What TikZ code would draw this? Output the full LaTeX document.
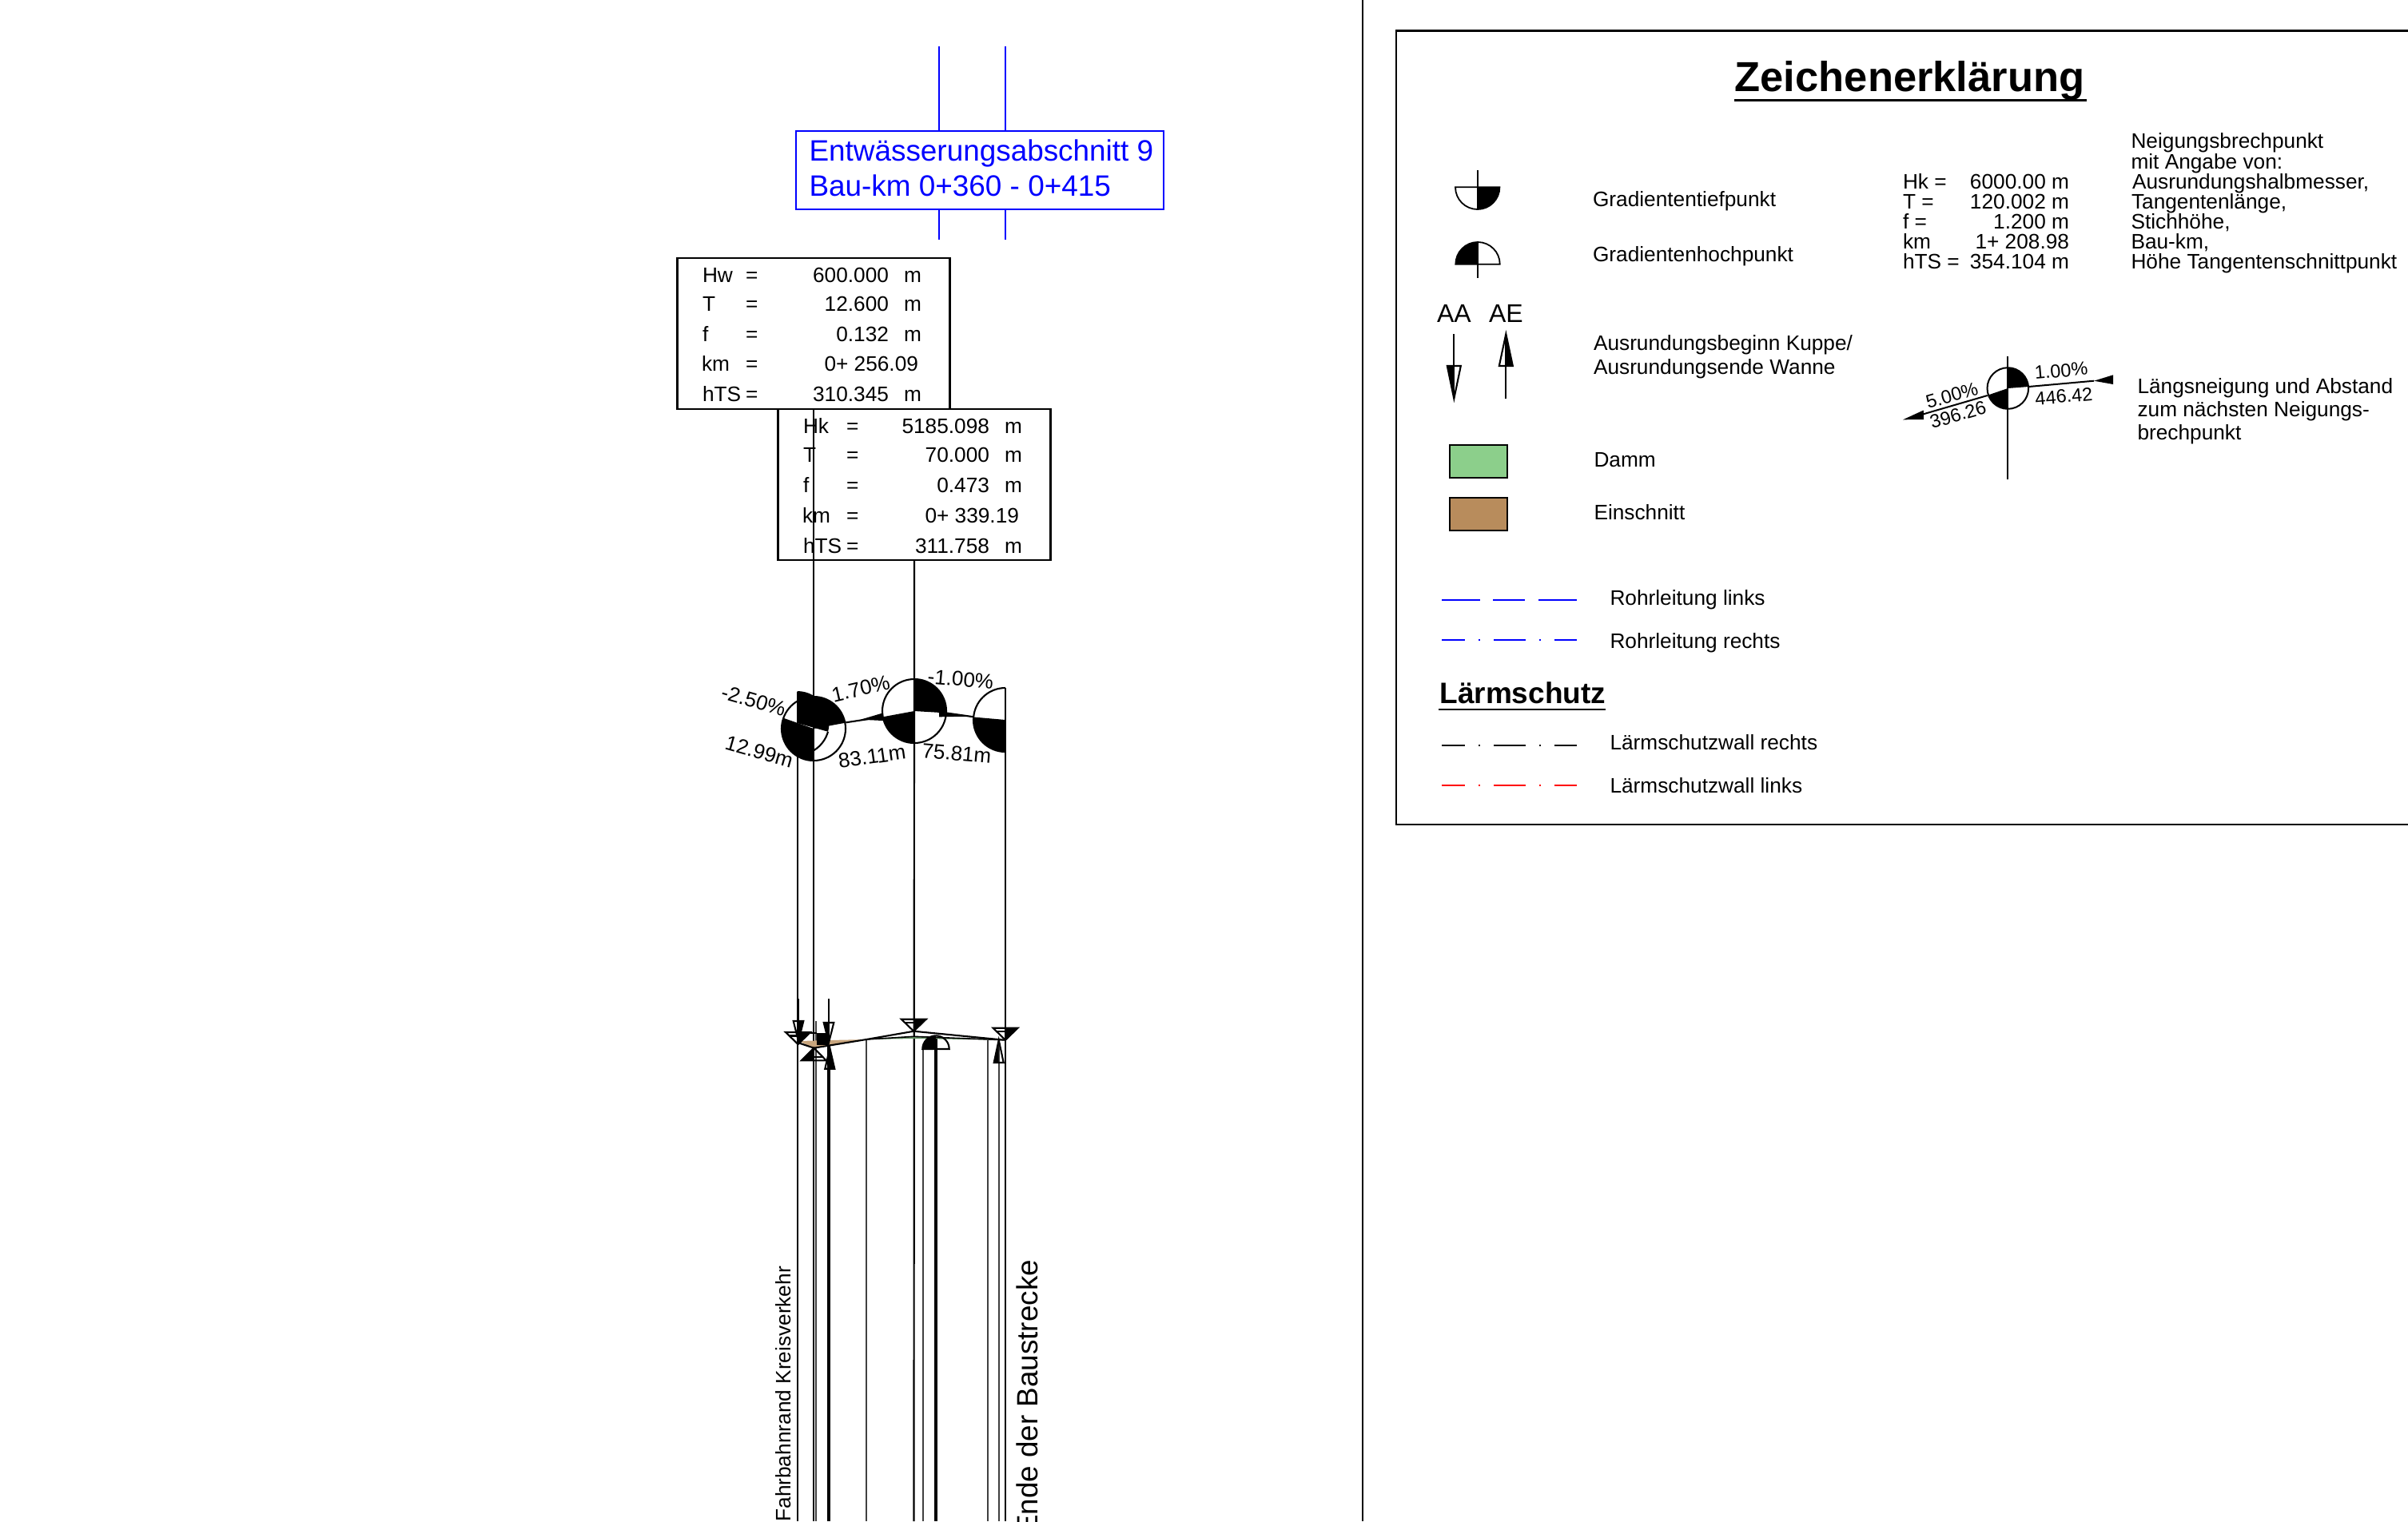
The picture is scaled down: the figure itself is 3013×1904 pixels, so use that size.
\documentclass[tikz,border=0pt]{standalone}
\usepackage{fontspec}
\setmainfont{Liberation Sans}
\definecolor{cuttan}{RGB}{200,165,125}
\definecolor{fillgreen}{RGB}{105,150,105}
\tikzset{
  fs/.style={font=\fontsize{#1}{#1}\selectfont},
  txt/.style={inner sep=0pt,outer sep=0pt,anchor=base west,fs=26.25},
  txtr/.style={inner sep=0pt,outer sep=0pt,anchor=base east,fs=26.25},
  rotlbl/.style={inner sep=0pt,outer sep=0pt,anchor=center,fs=26},
  vthin/.style={line width=1.8pt,black!75},
  vmid/.style={line width=2.2pt,black},
  vthick/.style={line width=3.2pt,black},
  sym/.style={line width=2.1pt,black},
  boxframe/.style={draw,line width=2.3pt,rectangle,inner sep=0pt,outer sep=0pt},
  legline/.style={line width=2.6pt},
  dashA/.style={dash pattern=on 47.4pt off 16.6pt on 40pt off 17pt on 47.4pt},
  dashB/.style={dash pattern=on 28.4pt off 17.3pt on 2pt off 17pt on 40pt off 17.2pt on 2pt off 16.5pt on 28.7pt}
}
% #1 x, #2 tip y, #3 base y, #4 half width, #5 black side (+1 right, -1 left)
\newcommand\halftri[5]{%
  \fill[black] (#1,-#3) -- ++({#5*#4},0) -- (#1,-#2) -- cycle;
  \draw[sym,line join=miter] ({#1-#4},-#3) -- ({#1+#4},-#3) -- (#1,-#2) -- cycle;}
% water-level triangle
\newcommand\wtri[5]{%
  \halftri{#1}{#2}{#3}{#4}{#5}
  \draw[sym] ({#1-#5*0.7*#4},{-(#3+0.3*(#2-#3))}) -- (#1,{-(#3+0.3*(#2-#3))});}
% table row: name, x offset, baseline, label, value
\newcommand\tabrow[5]{%
  \node[txt] (#1l) at ({879+#2},-#3) {#4};
  \node[txt] (#1e) at ({933+#2},-#3) {=};
  \node[txtr] (#1v) at ({1112+#2},-#3) {#5};
  \node[txt] (#1m) at ({1131+#2},-#3) {m};}
\newcommand\tabkm[4]{%
  \node[txt] (#1l) at ({878+#2},-#3) {km};
  \node[txt] (#1e) at ({933+#2},-#3) {=};
  \node[txtr] (#1v) at ({1149+#2},-#3) {#4};}
\begin{document}
\begin{tikzpicture}[x=1pt,y=1pt]
\useasboundingbox (0,0) rectangle (3013,-1904);
\clip (0,0) rectangle (3013,-1904);
\fill[white] (0,0) rectangle (3013,-1904);

% sheet divider and legend frame
\draw[line width=2.3pt] (1705,0) -- (1705,-1904);
\draw[line width=2.6pt] (3013,-38.3) -- (1747,-38.3) -- (1747,-1032) -- (3013,-1032);

% drainage box
\node[boxframe,draw=blue,anchor=north west,minimum width=460pt,minimum height=98pt] (blau) at (996,-164) {};
\coordinate (bl1t) at (1175,-58);
\coordinate (bl2t) at (1257.7,-58);
\coordinate (bl1b) at (1175,-300);
\coordinate (bl2b) at (1257.7,-300);
\draw[blue,line width=2pt] (bl1t) -- (bl1t |- blau.north);
\draw[blue,line width=2pt] (bl2t) -- (bl2t |- blau.north);
\draw[blue,line width=2pt] (bl1b |- blau.south) -- (bl1b);
\draw[blue,line width=2pt] (bl2b |- blau.south) -- (bl2b);
\node[txt,fs=36.9,text=blue] (blau1) at (1012.5,-201.7) {Entwässerungsabschnitt 9};
\node[txt,fs=36.9,text=blue] (blau2) at (1012.5,-245.7) {Bau-km 0+360 - 0+415};

% parameter tables
\node[boxframe,anchor=north west,minimum width=341pt,minimum height=189pt] (tabA) at (847.5,-323) {};
\node[boxframe,anchor=north west,minimum width=341pt,minimum height=189pt] (tabB) at (973.5,-512) {};
\tabrow{aa}{0}{353}{Hw}{600.000}
\tabrow{ab}{0}{389}{T}{12.600}
\tabrow{ac}{0}{427}{f}{0.132}
\tabkm{ad}{0}{464}{0+ 256.09}
\tabrow{ae}{0}{502}{hTS}{310.345}
\tabrow{ba}{126}{542}{Hk}{5185.098}
\tabrow{bb}{126}{578}{T}{70.000}
\tabrow{bc}{126}{616}{f}{0.473}
\tabkm{bd}{126}{654}{0+ 339.19}
\tabrow{be}{126}{692}{hTS}{311.758}

% gradient circles
\coordinate (c0) at (997.5,-905);
\coordinate (c1) at (1018,-912);
\coordinate (c2) at (1144,-890);
\coordinate (c3) at (1258,-901);
\fill (c0) -- +(90:40) arc[start angle=90,end angle=-15.6,radius=40pt] -- cycle;
\draw[sym] (c0) ++(-15.6:40) arc[start angle=-15.6,end angle=-90,radius=40pt];
\fill (c1) -- +(90:40) arc[start angle=90,end angle=10.4,radius=40pt] -- cycle;
\fill (c1) -- +(160.6:40) arc[start angle=160.6,end angle=270,radius=40pt] -- cycle;
\draw[sym] (c1) circle[radius=40pt];
\fill (c2) -- +(90:40) arc[start angle=90,end angle=-3.4,radius=40pt] -- cycle;
\fill (c2) -- +(190.5:40) arc[start angle=190.5,end angle=270,radius=40pt] -- cycle;
\draw[sym] (c2) circle[radius=40pt];
\fill (c3) -- +(175:40) arc[start angle=175,end angle=270,radius=40pt] -- cycle;
\draw[sym] (c3) ++(90:40) arc[start angle=90,end angle=270,radius=40pt];
\draw[sym] (1058.3,-904.3) -- (1104.7,-897.3);
\draw[sym] (1183.3,-892.3) -- (1218.3,-897.3);
\fill (1076.7,-900.7) -- (1105,-892.3) -- (1105,-902) -- cycle;
\fill (1210,-896.7) -- (1175,-891) -- (1175,-897.3) -- cycle;
\node[rotlbl,rotate=-16] (sa) at (943,-877) {-2.50\%};
\node[rotlbl,rotate=-16] (da) at (950,-941) {12.99m};
\node[rotlbl,rotate=13] (sb) at (1077,-862) {1.70\%};
\node[rotlbl,rotate=8] (db) at (1091,-947) {83.11m};
\node[rotlbl,rotate=-5] (sc) at (1202,-850) {-1.00\%};
\node[rotlbl,rotate=-5] (dc) at (1197,-943) {75.81m};

% long verticals
\draw[vmid] (998,-866) -- (998,-1904);
\draw[vmid] (tabB.north -| c1) -- (1018,-1904);
\draw[vthin] (1021,-1278) -- (1021,-1904);
\draw[vmid] (999.3,-1250) -- (999.3,-1300);
\draw[vmid] (1037,-1250) -- (1037,-1300);
\draw[vthick] (1037,-1300) -- (1037,-1904);
\draw[vthin] (1084,-1302) -- (1084,-1904);
\draw[vmid] (tabB.south -| c2) -- (1143.5,-1904);
\draw[vthin] (1155,-1313) -- (1155,-1904);
\draw[vthick] (1171,-1298) -- (1171,-1904);
\draw[vthin] (1236,-1302) -- (1236,-1904);
\draw[vthin] (1250,-1302) -- (1250,-1904);
\draw[vmid] (c3 |- 0,-861) -- (1258,-1904);

% longitudinal section
\fill[cuttan] (1000,-1303) -- (1037,-1302) -- (1084,-1301) -- (1037,-1309) -- (1018,-1312) -- cycle;
\fill[fillgreen] (1084,-1301) -- (1143,-1297) -- (1257,-1301.7) -- (1143,-1300) -- cycle;
\draw[sym] (998.3,-1305) -- (1018.3,-1311.7) -- (1084,-1301) -- (1143.3,-1290.7) -- (1256.7,-1301.7);
\draw[line width=1.6pt] (1084,-1301) -- (1143.3,-1297.3) -- (1256.7,-1301.7);
\fill (1022,-1293) rectangle (1037,-1308);
\draw[sym] (1014,-1293) -- (1022,-1293);
\wtri{998.5}{1307}{1292}{15.5}{1}
\halftri{999}{1303}{1278}{6.3}{1}
\wtri{1143.3}{1290.7}{1275.7}{15.5}{1}
\wtri{1258}{1301.7}{1286.7}{15.5}{1}
\wtri{1018.3}{1311.7}{1327.3}{15.5}{-1}
\halftri{1037}{1305}{1280}{6.3}{-1}
\halftri{1038.3}{1311.7}{1337.7}{6}{1}
\halftri{1249.7}{1301.7}{1330}{6}{-1}
\fill (1171,-1313) -- (1154.3,-1313) arc[start angle=180,end angle=90,radius=16.7pt] -- cycle;
\draw[sym] (1154.3,-1313) arc[start angle=180,end angle=0,radius=16.7pt] -- cycle;

% vertical labels
\node[txtr,rotate=90] (fk) at (989,-1585) {Fahrbahnrand Kreisverkehr};
\node[txtr,rotate=90,fs=36.8] (eb) at (1298,-1577) {Ende der Baustrecke};

% legend title
\node[txt,font=\fontsize{52.5}{52.5}\selectfont\bfseries] (titel) at (2170.7,-114) {Zeichenerklärung};
\draw[line width=2.6pt] (2170,-125.3) -- (2611,-125.3);

% legend: low / high point
\coordinate (lt) at (1848.7,-234.3);
\coordinate (lh) at (1849,-330.7);
\fill (lt) -- +(27.7,0) arc[start angle=0,end angle=-90,radius=27.7pt] -- cycle;
\draw[line width=1.8pt] (lt) ++(-27.7,0) arc[start angle=180,end angle=360,radius=27.7pt] -- cycle;
\draw[line width=1.8pt] (1848.7,-213) -- (1848.7,-262);
\fill (lh) -- +(-27.7,0) arc[start angle=180,end angle=90,radius=27.7pt] -- cycle;
\draw[line width=1.8pt] (lh) ++(-27.7,0) arc[start angle=180,end angle=0,radius=27.7pt] -- cycle;
\draw[line width=1.8pt] (1849,-303) -- (1849,-348);
\node[txt] (gt) at (1993,-258) {Gradiententiefpunkt};
\node[txt] (gh) at (1993,-327) {Gradientenhochpunkt};

% legend: AA AE
\node[txt,fs=32] (laa) at (1798,-403) {AA};
\node[txt,fs=32] (lae) at (1863,-403) {AE};
\draw[line width=2pt] (1819.3,-418) -- (1819.3,-499);
\draw[line width=2pt] (1884.3,-418) -- (1884.3,-499);
\halftri{1819.3}{499}{458}{8.5}{-1}
\halftri{1884.3}{418}{458}{8.5}{1}
\node[txt] (au1) at (1994,-438) {Ausrundungsbeginn Kuppe/};
\node[txt] (au2) at (1994,-468) {Ausrundungsende Wanne};

% legend: swatches
\draw[line width=2.2pt,fill={rgb,255:red,140;green,207;blue,139}] (1814,-556.7) rectangle (1886,-598.3);
\draw[line width=2.2pt,fill={rgb,255:red,184;green,140;blue,92}] (1814,-622.7) rectangle (1886,-664);
\node[txt] (ld) at (1994.5,-584) {Damm};
\node[txt] (le) at (1994.5,-650) {Einschnitt};

% legend: lines
\draw[legline,blue,dashA] (1804.3,-751) -- (1972.7,-751);
\node[txt] (r1) at (2014.5,-757) {Rohrleitung links};
\draw[legline,blue,dashB] (1804.3,-801) -- (1972.7,-801);
\node[txt] (r2) at (2014.5,-811) {Rohrleitung rechts};
\node[txt,font=\fontsize{37}{37}\selectfont\bfseries] (ls) at (1801.5,-880) {Lärmschutz};
\draw[line width=2.4pt] (1800,-888) -- (2009,-888);
\draw[legline,black,dashB] (1804.3,-933) -- (1972.7,-933);
\node[txt] (l1) at (2014.5,-938) {Lärmschutzwall rechts};
\draw[legline,red,dashB] (1804.3,-983) -- (1972.7,-983);
\node[txt] (l2) at (2014.5,-992) {Lärmschutzwall links};

% legend: sample values
\node[txt] (h1) at (2381,-236.7) {Hk =};
\node[txt] (h2) at (2381,-261.7) {T =};
\node[txt] (h3) at (2381,-286.7) {f =};
\node[txt] (h4) at (2381,-311.7) {km};
\node[txt] (h5) at (2381,-336.7) {hTS =};
\node[txtr] (v1) at (2589,-236.7) {6000.00 m};
\node[txtr] (v2) at (2589,-261.7) {120.002 m};
\node[txtr] (v3) at (2589,-286.7) {1.200 m};
\node[txtr] (v4) at (2589,-311.7) {1+ 208.98};
\node[txtr] (v5) at (2589,-336.7) {354.104 m};
\node[txt] (n1) at (2666.5,-185) {Neigungsbrechpunkt};
\node[txt] (n2) at (2666.5,-211.7) {mit Angabe von:};
\node[txt] (n3) at (2668,-236.7) {Ausrundungshalbmesser,};
\node[txt] (n4) at (2667,-261.7) {Tangentenlänge,};
\node[txt] (n5) at (2666.5,-286.7) {Stichhöhe,};
\node[txt] (n6) at (2666.5,-311.7) {Bau-km,};
\node[txt] (n7) at (2666.5,-336.7) {Höhe Tangentenschnittpunkt};

% legend: slope sample
\coordinate (ls0) at (2512.3,-486);
\fill (ls0) -- +(90:25.8) arc[start angle=90,end angle=4.4,radius=25.8pt] -- cycle;
\fill (ls0) -- +(199:25.8) arc[start angle=199,end angle=270,radius=25.8pt] -- cycle;
\draw[line width=2pt] (ls0) circle[radius=25.8pt];
\draw[line width=2pt] (2512.3,-446) -- (2512.3,-600);
\draw[line width=2pt] (2486.7,-495) -- (2406.7,-518.3);
\draw[line width=2pt] (2538.3,-484) -- (2620,-476.7);
\fill (2381,-525.3) -- (2406.7,-513.5) -- (2407,-525) -- cycle;
\fill (2620,-476.7) -- (2644,-469.3) -- (2644,-481) -- cycle;
\node[rotlbl,fs=23.5,rotate=16] (s1) at (2442.3,-495) {5.00\%};
\node[rotlbl,fs=23.5,rotate=16] (s2) at (2450,-519) {396.26};
\node[rotlbl,fs=23.5,rotate=5] (s3) at (2579,-464) {1.00\%};
\node[rotlbl,fs=23.5,rotate=5] (s4) at (2582.3,-496) {446.42};
\node[txt] (la1) at (2674.5,-492.7) {Längsneigung und Abstand};
\node[txt] (la2) at (2674.5,-521.7) {zum nächsten Neigungs-};
\node[txt] (la3) at (2674.5,-550) {brechpunkt};
\end{tikzpicture}
\end{document}
